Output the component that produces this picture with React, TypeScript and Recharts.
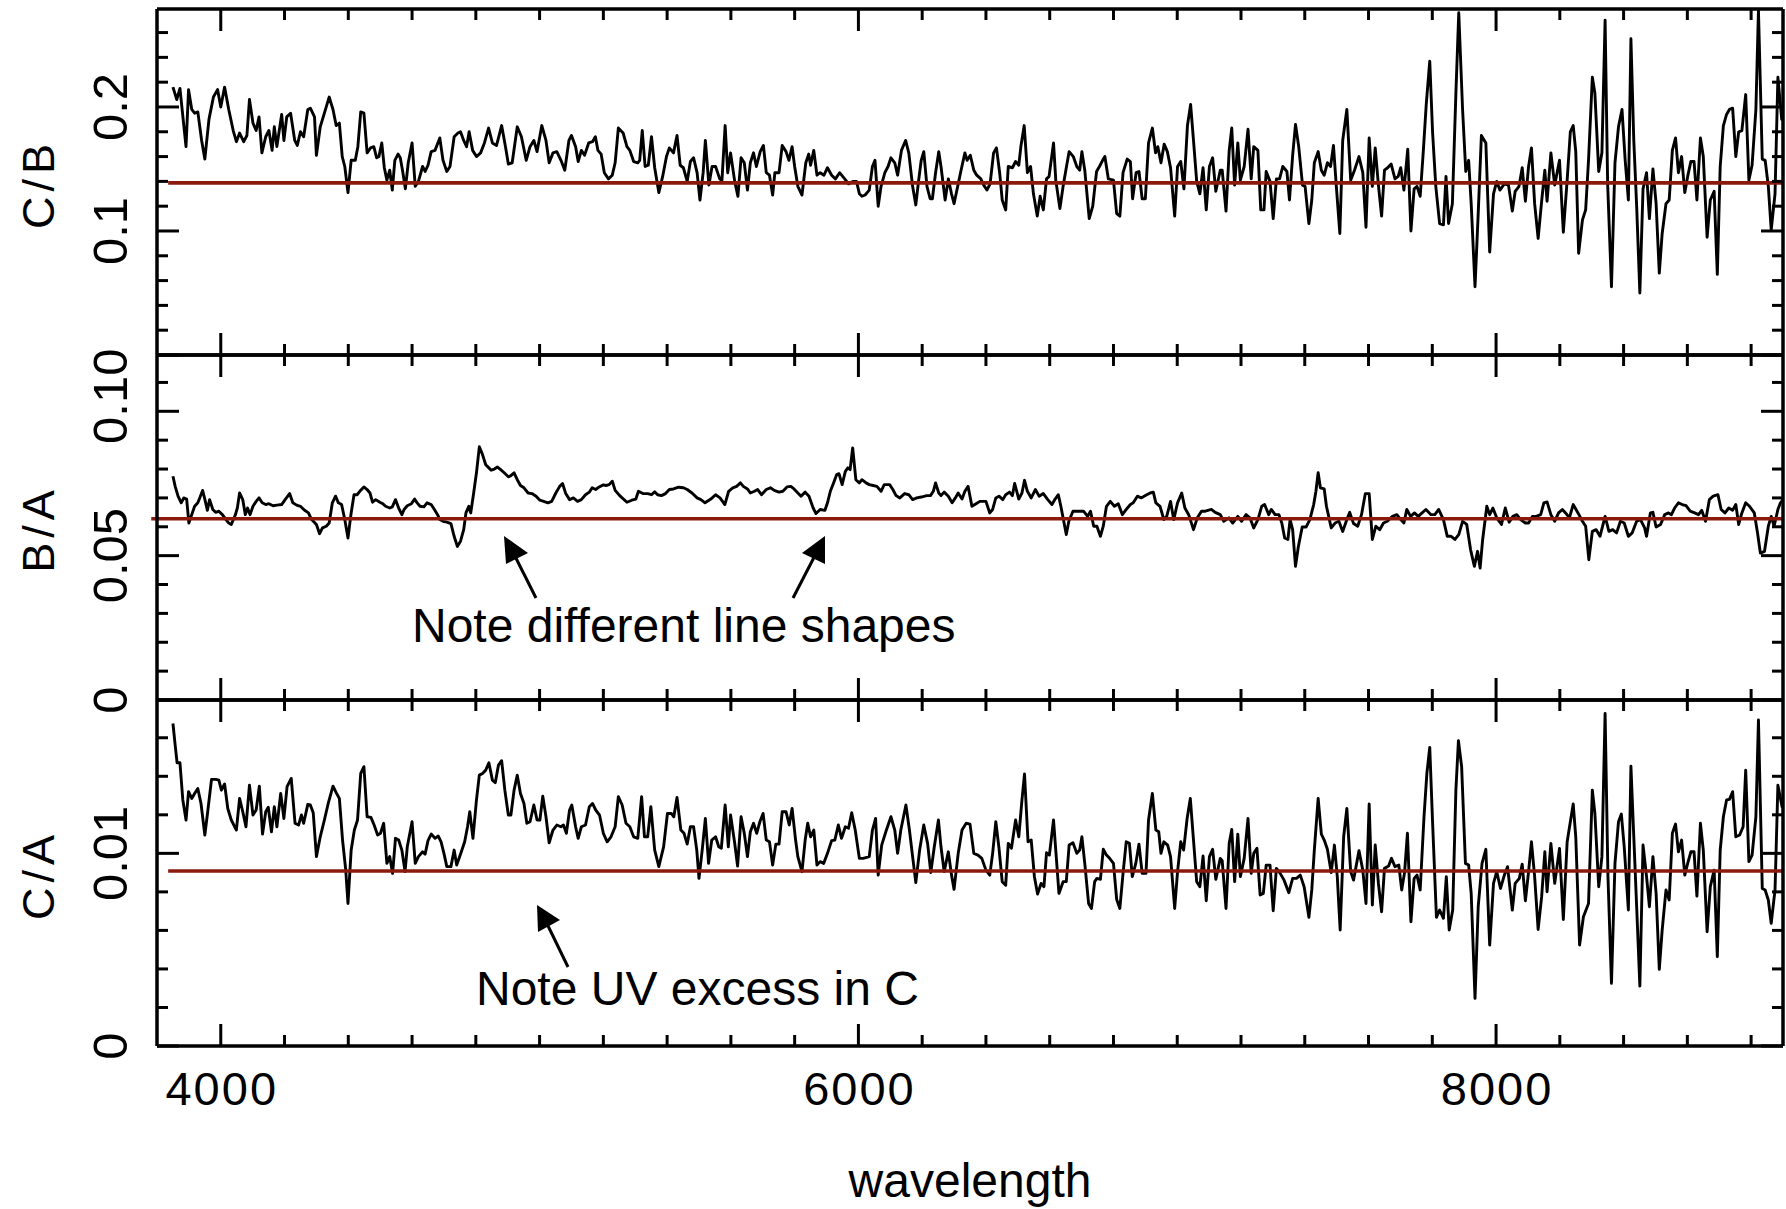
import React from 'react';
import { LineChart, Line, XAxis, YAxis, ReferenceLine } from 'recharts';

const W = 1786;
const H = 1209;
const PLOT_L = 157;
const PLOT_R = 1783;
const FONT = '"Liberation Sans", Arial, Helvetica, sans-serif';
const RED = '#8b1a0e';

// ---------- data: [wavelength, ratio] ----------
const cbSpectrum: number[][] = [
[3850,.216],[3862,.206],[3872,.215],[3878,.200],[3891,.168],[3899,.214],[3909,.198],[3918,.195],[3928,.196],[3940,.173],
[3950,.158],[3963,.190],[3977,.208],[3990,.214],[4000,.200],[4012,.216],[4025,.198],[4039,.181],[4049,.172],[4059,.179],
[4072,.172],[4082,.177],[4090,.206],[4101,.187],[4111,.181],[4120,.192],[4129,.163],[4141,.176],[4151,.181],[4161,.165],
[4168,.184],[4176,.168],[4191,.194],[4198,.173],[4207,.192],[4219,.195],[4232,.173],[4240,.169],[4250,.180],[4260,.176],
[4273,.198],[4281,.199],[4294,.192],[4300,.161],[4312,.184],[4325,.195],[4340,.208],[4352,.198],[4362,.185],[4372,.187],
[4381,.160],[4389,.152],[4399,.131],[4409,.157],[4422,.157],[4430,.168],[4439,.196],[4449,.195],[4459,.163],[4470,.167],
[4480,.168],[4489,.159],[4496,.160],[4505,.171],[4513,.151],[4521,.141],[4530,.149],[4538,.133],[4546,.157],[4556,.162],
[4563,.159],[4570,.149],[4579,.134],[4588,.155],[4600,.171],[4610,.136],[4620,.140],[4633,.152],[4641,.148],[4650,.153],
[4660,.164],[4672,.165],[4687,.175],[4697,.157],[4709,.148],[4719,.152],[4732,.176],[4744,.179],[4752,.180],[4762,.173],
[4771,.168],[4779,.180],[4790,.165],[4802,.160],[4815,.163],[4827,.171],[4840,.183],[4852,.171],[4865,.169],[4881,.185],
[4893,.168],[4902,.154],[4914,.155],[4930,.184],[4943,.176],[4958,.157],[4970,.168],[4982,.173],[4992,.164],[5007,.185],
[5020,.173],[5030,.155],[5042,.163],[5054,.164],[5067,.157],[5079,.149],[5092,.173],[5100,.177],[5113,.168],[5121,.156],
[5131,.165],[5141,.161],[5154,.171],[5166,.172],[5175,.176],[5183,.165],[5193,.162],[5203,.147],[5216,.142],[5228,.145],
[5237,.155],[5247,.183],[5262,.179],[5274,.168],[5283,.165],[5295,.156],[5308,.155],[5314,.157],[5322,.181],[5331,.152],
[5341,.153],[5351,.176],[5361,.151],[5374,.131],[5386,.144],[5398,.160],[5407,.167],[5420,.163],[5431,.177],[5441,.153],
[5451,.151],[5463,.140],[5473,.156],[5483,.159],[5494,.147],[5503,.125],[5513,.147],[5520,.173],[5531,.137],[5541,.152],
[5552,.152],[5565,.142],[5572,.141],[5582,.185],[5590,.147],[5599,.163],[5612,.140],[5622,.128],[5632,.159],[5642,.155],
[5652,.133],[5661,.155],[5671,.163],[5680,.152],[5692,.164],[5702,.169],[5711,.147],[5721,.145],[5731,.129],[5738,.147],
[5751,.147],[5761,.169],[5773,.164],[5782,.157],[5792,.168],[5800,.152],[5810,.136],[5823,.129],[5835,.155],[5844,.162],
[5850,.153],[5860,.165],[5870,.145],[5880,.147],[5892,.145],[5903,.151],[5916,.145],[5928,.142],[5941,.147],[5957,.142],
[5969,.138],[5984,.140],[5994,.140],[6003,.130],[6011,.128],[6021,.129],[6034,.133],[6044,.152],[6052,.157],[6062,.120],
[6071,.136],[6083,.147],[6093,.152],[6102,.159],[6114,.155],[6123,.145],[6135,.165],[6148,.173],[6158,.163],[6170,.136],
[6180,.121],[6189,.141],[6197,.157],[6205,.164],[6215,.136],[6225,.126],[6232,.126],[6242,.147],[6252,.164],[6259,.152],
[6272,.125],[6282,.142],[6292,.130],[6300,.122],[6313,.138],[6322,.149],[6334,.163],[6341,.157],[6351,.161],[6362,.149],
[6371,.145],[6384,.142],[6393,.137],[6403,.133],[6413,.138],[6424,.163],[6433,.167],[6443,.147],[6451,.125],[6462,.117],
[6470,.152],[6483,.151],[6493,.156],[6503,.153],[6510,.169],[6520,.185],[6530,.147],[6540,.152],[6549,.130],[6561,.112],
[6570,.128],[6580,.117],[6590,.142],[6598,.144],[6612,.171],[6619,.141],[6632,.118],[6642,.136],[6652,.151],[6661,.164],
[6674,.160],[6685,.152],[6694,.149],[6701,.164],[6710,.149],[6724,.110],[6735,.120],[6747,.148],[6756,.152],[6766,.157],
[6773,.160],[6784,.142],[6800,.141],[6810,.114],[6820,.112],[6830,.147],[6843,.158],[6853,.156],[6860,.126],[6871,.147],
[6880,.148],[6890,.126],[6900,.126],[6910,.171],[6922,.183],[6932,.163],[6939,.168],[6949,.155],[6959,.170],[6969,.164],
[6979,.151],[6992,.112],[7001,.152],[7011,.156],[7021,.134],[7032,.185],[7042,.202],[7051,.173],[7061,.140],[7071,.130],
[7081,.151],[7091,.117],[7101,.152],[7111,.159],[7121,.132],[7135,.149],[7141,.149],[7153,.116],[7163,.165],[7171,.183],
[7180,.137],[7190,.171],[7198,.141],[7210,.152],[7222,.182],[7232,.142],[7240,.168],[7253,.165],[7262,.117],[7272,.117],
[7279,.148],[7291,.140],[7301,.110],[7311,.142],[7321,.142],[7331,.152],[7344,.148],[7352,.125],[7362,.161],[7371,.186],
[7381,.168],[7393,.137],[7401,.136],[7413,.106],[7422,.125],[7430,.155],[7442,.164],[7452,.149],[7461,.145],[7471,.155],
[7481,.152],[7490,.169],[7499,.136],[7510,.098],[7519,.173],[7532,.198],[7544,.141],[7556,.149],[7570,.160],[7582,.147],
[7592,.103],[7602,.175],[7612,.136],[7621,.167],[7631,.137],[7641,.112],[7650,.149],[7660,.151],[7671,.154],[7683,.142],
[7693,.144],[7701,.151],[7711,.133],[7723,.166],[7733,.100],[7743,.134],[7752,.136],[7762,.128],[7772,.165],[7781,.202],
[7792,.237],[7801,.179],[7811,.136],[7823,.106],[7835,.105],[7843,.144],[7851,.106],[7863,.122],[7874,.211],[7883,.276],
[7895,.198],[7905,.148],[7914,.157],[7922,.122],[7934,.055],[7944,.114],[7954,.177],[7968,.171],[7980,.083],[7992,.130],
[8002,.140],[8012,.133],[8026,.138],[8039,.137],[8051,.116],[8060,.132],[8072,.136],[8082,.151],[8092,.124],[8102,.152],
[8111,.167],[8121,.122],[8132,.094],[8143,.124],[8153,.149],[8160,.124],[8172,.163],[8184,.137],[8199,.157],[8211,.099],
[8223,.141],[8233,.180],[8242,.185],[8250,.164],[8259,.082],[8271,.109],[8281,.117],[8290,.157],[8302,.224],[8310,.211],
[8322,.148],[8332,.163],[8342,.270],[8350,.138],[8362,.055],[8373,.155],[8384,.184],[8395,.198],[8405,.157],[8415,.125],
[8423,.255],[8432,.173],[8441,.120],[8451,.050],[8461,.134],[8472,.147],[8481,.110],[8492,.150],[8502,.122],[8512,.066],
[8521,.098],[8533,.122],[8543,.125],[8553,.165],[8563,.175],[8572,.147],[8582,.160],[8592,.131],[8601,.144],[8611,.156],
[8621,.156],[8630,.125],[8641,.175],[8650,.160],[8662,.095],[8672,.125],[8684,.132],[8694,.065],[8703,.152],[8713,.185],
[8723,.194],[8732,.198],[8742,.199],[8752,.160],[8761,.180],[8771,.181],[8783,.210],[8793,.141],[8803,.153],[8815,.198],
[8823,.278],[8835,.158],[8844,.157],[8854,.136],[8863,.101],[8875,.130],[8884,.224],[8896,.190],[8900,.200]
];

const baSpectrum: number[][] = [
[3850,.0775],[3857,.0740],[3866,.0706],[3876,.0683],[3884,.0700],[3893,.0696],[3900,.0613],[3909,.0642],[3918,.0671],[3928,.0683],
[3934,.0700],[3943,.0726],[3950,.0696],[3958,.0657],[3965,.0694],[3975,.0660],[3984,.0650],[3994,.0654],[4005,.0642],[4015,.0627],
[4025,.0613],[4033,.0608],[4046,.0642],[4052,.0665],[4059,.0717],[4069,.0694],[4077,.0642],[4084,.0665],[4092,.0642],[4101,.0671],
[4111,.0688],[4120,.0700],[4130,.0683],[4141,.0677],[4151,.0680],[4164,.0673],[4176,.0675],[4191,.0677],[4203,.0696],[4216,.0715],
[4226,.0683],[4238,.0675],[4250,.0671],[4263,.0657],[4275,.0648],[4285,.0625],[4300,.0608],[4310,.0576],[4319,.0596],[4331,.0602],
[4340,.0613],[4350,.0683],[4360,.0706],[4369,.0683],[4379,.0677],[4389,.0625],[4399,.0561],[4409,.0648],[4418,.0711],[4428,.0711],
[4436,.0723],[4449,.0738],[4459,.0729],[4468,.0717],[4476,.0685],[4486,.0694],[4499,.0685],[4508,.0680],[4517,.0671],[4530,.0665],
[4538,.0669],[4548,.0694],[4558,.0665],[4568,.0642],[4575,.0660],[4585,.0673],[4598,.0680],[4608,.0696],[4616,.0683],[4625,.0671],
[4637,.0669],[4647,.0683],[4660,.0677],[4670,.0660],[4680,.0642],[4687,.0625],[4697,.0619],[4709,.0616],[4722,.0611],[4732,.0567],
[4742,.0532],[4752,.0550],[4762,.0590],[4769,.0648],[4778,.0671],[4784,.0648],[4793,.0715],[4802,.0787],[4811,.0877],[4821,.0850],
[4831,.0815],[4841,.0804],[4848,.0796],[4858,.0800],[4868,.0807],[4878,.0798],[4889,.0787],[4902,.0773],[4910,.0777],[4920,.0787],
[4930,.0763],[4940,.0743],[4951,.0735],[4964,.0717],[4976,.0715],[4989,.0706],[5001,.0692],[5013,.0688],[5026,.0683],[5038,.0688],
[5051,.0717],[5063,.0740],[5072,.0750],[5082,.0715],[5094,.0694],[5106,.0700],[5119,.0688],[5131,.0694],[5144,.0711],[5156,.0720],
[5165,.0735],[5176,.0729],[5187,.0738],[5200,.0745],[5208,.0743],[5218,.0746],[5228,.0758],[5237,.0726],[5253,.0706],[5274,.0685],
[5289,.0692],[5302,.0696],[5310,.0723],[5324,.0715],[5339,.0715],[5351,.0711],[5361,.0721],[5370,.0711],[5382,.0708],[5395,.0715],
[5407,.0729],[5420,.0731],[5436,.0737],[5451,.0735],[5463,.0729],[5478,.0717],[5494,.0700],[5506,.0694],[5519,.0683],[5537,.0696],
[5552,.0711],[5566,.0700],[5581,.0677],[5593,.0723],[5606,.0735],[5618,.0740],[5630,.0752],[5639,.0740],[5652,.0731],[5661,.0717],
[5674,.0723],[5684,.0729],[5696,.0711],[5711,.0729],[5724,.0735],[5736,.0726],[5751,.0720],[5763,.0723],[5776,.0738],[5788,.0740],
[5798,.0731],[5810,.0717],[5820,.0706],[5833,.0720],[5845,.0706],[5858,.0665],[5867,.0646],[5880,.0660],[5895,.0657],[5903,.0683],
[5912,.0723],[5922,.0752],[5932,.0781],[5939,.0784],[5949,.0746],[5959,.0792],[5967,.0804],[5974,.0798],[5982,.0873],[5992,.0763],
[6003,.0752],[6011,.0763],[6024,.0752],[6034,.0746],[6046,.0743],[6058,.0740],[6071,.0723],[6081,.0746],[6098,.0746],[6108,.0729],
[6118,.0708],[6130,.0700],[6145,.0715],[6158,.0711],[6170,.0694],[6183,.0700],[6197,.0703],[6214,.0708],[6226,.0708],[6235,.0723],
[6242,.0752],[6252,.0717],[6259,.0708],[6269,.0720],[6282,.0706],[6294,.0683],[6304,.0700],[6313,.0717],[6325,.0696],[6334,.0723],
[6344,.0740],[6356,.0671],[6369,.0680],[6381,.0688],[6400,.0688],[6412,.0648],[6421,.0660],[6431,.0700],[6441,.0706],[6453,.0694],
[6462,.0711],[6474,.0720],[6483,.0708],[6490,.0750],[6503,.0696],[6513,.0717],[6521,.0761],[6530,.0723],[6542,.0700],[6555,.0729],
[6567,.0706],[6580,.0715],[6594,.0694],[6607,.0677],[6617,.0696],[6627,.0711],[6635,.0671],[6652,.0573],[6660,.0619],[6673,.0654],
[6689,.0654],[6706,.0654],[6719,.0636],[6728,.0654],[6738,.0602],[6748,.0602],[6759,.0567],[6768,.0602],[6778,.0671],[6790,.0688],
[6803,.0671],[6815,.0680],[6828,.0642],[6840,.0660],[6853,.0677],[6862,.0683],[6875,.0706],[6887,.0700],[6900,.0708],[6915,.0717],
[6925,.0720],[6933,.0683],[6946,.0671],[6958,.0625],[6967,.0636],[6979,.0688],[6989,.0625],[7001,.0683],[7014,.0717],[7024,.0665],
[7036,.0642],[7051,.0590],[7063,.0631],[7076,.0654],[7088,.0654],[7107,.0660],[7119,.0650],[7135,.0642],[7146,.0619],[7162,.0631],
[7174,.0613],[7190,.0636],[7202,.0619],[7216,.0642],[7228,.0631],[7240,.0596],[7253,.0625],[7265,.0671],[7274,.0677],[7287,.0642],
[7295,.0660],[7307,.0642],[7319,.0642],[7328,.0613],[7337,.0561],[7347,.0556],[7354,.0625],[7362,.0590],[7371,.0463],[7380,.0532],
[7392,.0599],[7404,.0599],[7416,.0625],[7428,.0677],[7435,.0723],[7442,.0787],[7449,.0735],[7461,.0731],[7468,.0671],[7483,.0596],
[7495,.0613],[7507,.0619],[7519,.0584],[7532,.0625],[7541,.0650],[7553,.0611],[7566,.0602],[7578,.0642],[7590,.0715],[7602,.0715],
[7612,.0556],[7623,.0602],[7635,.0590],[7647,.0613],[7659,.0619],[7675,.0636],[7689,.0642],[7701,.0625],[7711,.0613],[7720,.0660],
[7732,.0636],[7744,.0648],[7756,.0636],[7768,.0648],[7780,.0660],[7796,.0642],[7808,.0642],[7820,.0660],[7835,.0625],[7847,.0567],
[7859,.0567],[7871,.0556],[7883,.0573],[7895,.0619],[7908,.0608],[7920,.0521],[7932,.0463],[7942,.0515],[7950,.0457],[7958,.0556],
[7971,.0671],[7980,.0642],[7990,.0665],[8002,.0631],[8017,.0608],[8029,.0665],[8041,.0616],[8053,.0636],[8065,.0642],[8077,.0625],
[8092,.0613],[8102,.0613],[8114,.0636],[8126,.0636],[8140,.0642],[8150,.0683],[8160,.0686],[8172,.0642],[8184,.0619],[8196,.0648],
[8208,.0660],[8218,.0648],[8230,.0631],[8242,.0677],[8257,.0648],[8271,.0619],[8281,.0602],[8291,.0486],[8302,.0584],[8314,.0590],
[8326,.0567],[8342,.0636],[8354,.0584],[8366,.0590],[8378,.0579],[8390,.0619],[8402,.0613],[8415,.0567],[8427,.0579],[8441,.0619],
[8453,.0625],[8466,.0596],[8472,.0567],[8484,.0648],[8492,.0650],[8502,.0599],[8516,.0608],[8529,.0642],[8541,.0648],[8550,.0642],
[8560,.0665],[8572,.0683],[8584,.0677],[8596,.0673],[8609,.0654],[8623,.0648],[8635,.0642],[8645,.0657],[8657,.0619],[8669,.0694],
[8681,.0706],[8696,.0711],[8706,.0660],[8718,.0648],[8730,.0665],[8742,.0657],[8752,.0677],[8761,.0608],[8771,.0648],[8783,.0683],
[8795,.0671],[8810,.0648],[8820,.0579],[8829,.0509],[8842,.0515],[8854,.0602],[8863,.0636],[8872,.0602],[8884,.0660],[8892,.0683],
[8900,.0694]
];

const caSpectrum: number[][] = [
[3850,.01674],[3857,.01562],[3863,.01470],[3872,.01470],[3881,.01277],[3891,.01173],[3899,.01320],[3909,.01285],[3918,.01311],[3928,.01337],
[3938,.01259],[3950,.01095],[3959,.01216],[3971,.01384],[3984,.01384],[3994,.01380],[4002,.01328],[4012,.01360],[4022,.01233],[4033,.01173],
[4049,.01121],[4059,.01285],[4069,.01216],[4079,.01138],[4090,.01354],[4101,.01199],[4111,.01225],[4121,.01349],[4131,.01100],[4141,.01216],
[4149,.01239],[4159,.01112],[4168,.01242],[4176,.01138],[4188,.01311],[4198,.01181],[4208,.01346],[4221,.01389],[4233,.01156],[4244,.01147],
[4253,.01199],[4260,.01156],[4273,.01254],[4281,.01251],[4290,.01211],[4300,.00983],[4312,.01086],[4325,.01173],[4337,.01259],[4352,.01349],
[4362,.01315],[4372,.01285],[4382,.01069],[4392,.00913],[4399,.00740],[4409,.01017],[4419,.01121],[4429,.01173],[4439,.01415],[4449,.01450],
[4459,.01190],[4471,.01187],[4481,.01147],[4492,.01095],[4501,.01104],[4511,.01156],[4521,.00948],[4530,.00983],[4539,.00896],[4548,.01078],
[4558,.01069],[4568,.01017],[4578,.00905],[4585,.01034],[4600,.01164],[4610,.00948],[4620,.00983],[4633,.01008],[4641,.00996],[4650,.01066],
[4660,.01100],[4672,.01078],[4682,.01090],[4691,.01060],[4700,.01000],[4709,.00931],[4722,.00931],[4732,.01017],[4740,.00939],[4753,.01000],
[4765,.01060],[4774,.01138],[4781,.01216],[4791,.01078],[4802,.01277],[4811,.01406],[4821,.01415],[4831,.01432],[4841,.01470],[4852,.01380],
[4861,.01367],[4871,.01458],[4881,.01481],[4891,.01328],[4902,.01199],[4910,.01199],[4920,.01328],[4930,.01406],[4940,.01311],[4951,.01259],
[4960,.01156],[4970,.01164],[4982,.01251],[4992,.01173],[5001,.01173],[5010,.01297],[5020,.01190],[5030,.01055],[5042,.01121],[5054,.01147],
[5067,.01138],[5075,.01147],[5084,.01104],[5094,.01225],[5101,.01251],[5113,.01138],[5121,.01078],[5131,.01138],[5144,.01147],[5156,.01242],
[5166,.01259],[5176,.01225],[5188,.01199],[5200,.01104],[5212,.01060],[5224,.01086],[5237,.01138],[5247,.01294],[5259,.01251],[5271,.01156],
[5283,.01138],[5295,.01086],[5308,.01078],[5320,.01294],[5329,.01086],[5339,.01086],[5349,.01242],[5361,.01017],[5374,.00931],[5389,.01034],
[5401,.01207],[5413,.01207],[5421,.01190],[5431,.01290],[5443,.01121],[5453,.01104],[5463,.01048],[5473,.01138],[5483,.01138],[5493,.01017],
[5500,.00870],[5510,.01017],[5520,.01181],[5530,.00948],[5540,.01069],[5552,.01086],[5562,.01034],[5570,.01026],[5582,.01251],[5592,.01034],
[5599,.01199],[5612,.01052],[5621,.00934],[5632,.01190],[5642,.01104],[5652,.00983],[5661,.01112],[5671,.01156],[5681,.01104],[5691,.01164],
[5701,.01207],[5711,.01069],[5721,.01060],[5731,.00939],[5741,.01048],[5751,.01048],[5761,.01216],[5773,.01216],[5783,.01147],[5792,.01233],
[5803,.01069],[5810,.00983],[5823,.00905],[5833,.01069],[5841,.01156],[5850,.01086],[5860,.01121],[5870,.00939],[5880,.00957],[5891,.00948],
[5903,.01000],[5916,.01066],[5926,.01069],[5937,.01147],[5947,.01078],[5959,.01138],[5969,.01130],[5979,.01211],[5990,.01121],[6003,.00974],
[6015,.00974],[6034,.00983],[6044,.01121],[6054,.01181],[6062,.00887],[6073,.01043],[6086,.01112],[6102,.01190],[6114,.01121],[6123,.01000],
[6133,.01121],[6149,.01251],[6160,.01121],[6170,.00983],[6180,.00848],[6192,.01017],[6205,.01147],[6217,.01052],[6227,.00900],[6238,.01034],
[6251,.01173],[6259,.01034],[6269,.00905],[6282,.01008],[6292,.00887],[6300,.00813],[6313,.01000],[6325,.01121],[6338,.01156],[6350,.01152],
[6362,.01000],[6375,.00991],[6387,.00974],[6400,.00913],[6412,.00887],[6421,.01000],[6431,.01164],[6441,.01026],[6451,.00853],[6462,.00835],
[6470,.01052],[6480,.01026],[6493,.01173],[6503,.01086],[6513,.01277],[6521,.01412],[6532,.01060],[6542,.01069],[6552,.00879],[6562,.00789],
[6573,.00844],[6582,.00827],[6590,.01003],[6599,.00991],[6612,.01173],[6619,.01017],[6629,.00792],[6642,.00853],[6652,.00853],[6661,.01043],
[6673,.01055],[6685,.01000],[6694,.01017],[6701,.01086],[6710,.00948],[6722,.00740],[6731,.00714],[6741,.00853],[6748,.00870],[6759,.00865],
[6768,.01021],[6778,.00991],[6788,.00974],[6800,.00948],[6810,.00761],[6820,.00714],[6830,.00896],[6840,.01060],[6850,.01052],[6859,.00879],
[6870,.00948],[6880,.01048],[6890,.00896],[6902,.00896],[6910,.01173],[6922,.01311],[6933,.01121],[6942,.01112],[6949,.01000],[6958,.01060],
[6970,.01043],[6979,.00983],[6992,.00714],[7001,.00905],[7011,.01060],[7020,.01017],[7031,.01181],[7041,.01285],[7051,.01069],[7061,.00853],
[7071,.00827],[7081,.00986],[7091,.00754],[7101,.00983],[7111,.01021],[7121,.00865],[7135,.00974],[7141,.00962],[7153,.00714],[7163,.01052],
[7171,.01124],[7180,.00853],[7190,.01100],[7198,.00879],[7210,.00974],[7222,.01181],[7232,.00896],[7240,.01000],[7250,.01026],[7260,.00784],
[7270,.00792],[7279,.00939],[7291,.00939],[7301,.00702],[7311,.00922],[7323,.00896],[7335,.00861],[7350,.00796],[7362,.00870],[7374,.00870],
[7386,.00887],[7398,.00827],[7413,.00668],[7422,.00810],[7430,.01017],[7442,.01285],[7452,.01100],[7461,.01069],[7471,.01021],[7483,.00900],
[7493,.01043],[7502,.00879],[7511,.00602],[7522,.01086],[7532,.01233],[7544,.00905],[7553,.00861],[7570,.01014],[7582,.00913],[7592,.00740],
[7602,.01256],[7612,.00732],[7621,.01043],[7631,.00844],[7641,.00697],[7650,.00922],[7663,.00934],[7672,.00974],[7683,.00931],[7695,.00939],
[7704,.00810],[7713,.00900],[7722,.01104],[7733,.00645],[7743,.00870],[7752,.00887],[7762,.00810],[7774,.01190],[7783,.01415],[7792,.01550],
[7801,.01156],[7813,.00668],[7823,.00706],[7835,.00663],[7844,.00879],[7853,.00602],[7864,.00706],[7874,.01328],[7882,.01585],[7892,.01450],
[7904,.00948],[7914,.00939],[7922,.00792],[7934,.00247],[7944,.00723],[7956,.00948],[7968,.01021],[7980,.00524],[7992,.00844],[8002,.00905],
[8014,.00818],[8026,.00887],[8036,.00931],[8051,.00706],[8060,.00844],[8073,.00870],[8082,.00944],[8092,.00754],[8102,.00905],[8111,.01060],
[8121,.00879],[8132,.00605],[8143,.00775],[8153,.01008],[8160,.00801],[8172,.01052],[8184,.00844],[8199,.01026],[8211,.00657],[8223,.01060],
[8233,.01164],[8242,.01256],[8250,.01086],[8262,.00524],[8274,.00671],[8290,.00740],[8302,.01328],[8310,.01207],[8322,.00827],[8332,.00983],
[8342,.01726],[8351,.00879],[8362,.00325],[8373,.00948],[8384,.01164],[8393,.01204],[8402,.01034],[8415,.00706],[8423,.01453],[8432,.01086],
[8441,.00723],[8451,.00311],[8461,.01043],[8472,.00879],[8481,.00723],[8492,.00983],[8502,.00792],[8512,.00398],[8521,.00602],[8533,.00810],
[8543,.00758],[8553,.01104],[8563,.01152],[8572,.01008],[8582,.01069],[8592,.00887],[8601,.00948],[8611,.01008],[8621,.01008],[8630,.00778],
[8641,.01156],[8650,.01017],[8662,.00593],[8672,.00827],[8684,.00913],[8694,.00464],[8703,.01017],[8713,.01190],[8723,.01277],[8732,.01280],
[8742,.01320],[8752,.01086],[8764,.01095],[8775,.01138],[8783,.01432],[8793,.00957],[8803,.00991],[8815,.01190],[8823,.01692],[8835,.00818],
[8844,.00810],[8854,.00758],[8863,.00637],[8875,.00810],[8884,.01354],[8897,.01242],[8900,.01280]
];

// reference (mean) levels and their starting wavelength
const cbMean = 0.1388;
const baMean = 0.0628;
const caMean = 0.00908;
const cbMeanStart = 3835;
const baMeanStart = 3782;
const caMeanStart = 3835;

// ---------- axes ----------
const xDomain = [3800, 8900];
const xTicks = [4000, 4200, 4400, 4600, 4800, 5000, 5200, 5400, 5600, 5800, 6000, 6200, 6400, 6600, 6800, 7000, 7200, 7400, 7600, 7800, 8000, 8200, 8400, 8600, 8800];
const xMajor = [4000, 6000, 8000];
const xTickLabels = ['4000', '6000', '8000'];

const cbTicks = [0, 0.02, 0.04, 0.06, 0.08, 0.1, 0.12, 0.14, 0.16, 0.18, 0.2, 0.22, 0.24, 0.26];
const cbMajor = [0, 0.1, 0.2];
const cbLabelValues = [0.1, 0.2];
const cbLabels = ['0.1', '0.2'];

const baTicks = [0, 0.01, 0.02, 0.03, 0.04, 0.05, 0.06, 0.07, 0.08, 0.09, 0.1, 0.11];
const baMajor = [0, 0.05, 0.1];
const baLabelValues = [0, 0.05, 0.1];
const baLabels = ['0', '0.05', '0.10'];

const caTicks = [0, 0.002, 0.004, 0.006, 0.008, 0.01, 0.012, 0.014, 0.016];
const caMajor = [0, 0.01];
const caLabelValues = [0, 0.01];
const caLabels = ['0', '0.01'];

const TICK_MAJOR = 22;
const TICK_MINOR = 11;

const near = (a: number, b: number) => Math.abs(a - b) < 1e-9;
const inList = (v: number, arr: number[]) => arr.some((a) => near(a, v));

type Side = 'bottom' | 'top' | 'left' | 'right';

function makeTick(side: Side, major: number[], labelValues: number[] = [], labels: string[] = []) {
  return (props: any) => {
    const { x, y, payload } = props;
    const v = payload.value as number;
    const len = inList(v, major) ? TICK_MAJOR : TICK_MINOR;
    let x2 = x;
    let y2 = y;
    if (side === 'bottom') y2 = y - len;
    if (side === 'top') y2 = y + len;
    if (side === 'left') x2 = x + len;
    if (side === 'right') x2 = x - len;
    const li = labelValues.findIndex((a) => near(a, v));
    let label = null;
    if (li >= 0) {
      const text = labels[li];
      if (side === 'bottom') {
        label = (
          <text x={x + 1} y={y + 59} textAnchor="middle" fontSize={47} letterSpacing={2} fontFamily={FONT} fill="#000">
            {text}
          </text>
        );
      } else if (side === 'left') {
        const lx = x - 30;
        const ly = text === '0.10' ? y - 15 : y;
        label = (
          <text x={lx} y={ly} transform={`rotate(-90 ${lx} ${ly})`} textAnchor="middle" fontSize={49} fontFamily={FONT} fill="#000">
            {text}
          </text>
        );
      }
    }
    return (
      <g>
        <line x1={x} y1={y} x2={x2} y2={y2} stroke="#000" strokeWidth={3} />
        {label}
      </g>
    );
  };
}

type PanelProps = {
  top: number;
  bottom: number;
  points: number[][];
  yDomain: number[];
  yTicks: number[];
  yMajor: number[];
  yLabelValues: number[];
  yLabels: string[];
  mean: number;
  meanStart: number;
  showX: boolean;
};

function Panel(p: PanelProps) {
  const data = p.points.map(([w, v]) => ({ w, v }));
  const axisLine = { stroke: '#000', strokeWidth: 3.5 };
  return (
    <div style={{ position: 'absolute', left: 0, top: 0 }}>
      <LineChart
        width={W}
        height={H}
        data={data}
        margin={{ top: p.top - 1, bottom: H - p.bottom - 1, left: PLOT_L - 1, right: W - PLOT_R - 1 }}
      >
        <XAxis
          xAxisId="b"
          orientation="bottom"
          type="number"
          dataKey="w"
          domain={xDomain}
          allowDataOverflow
          ticks={xTicks}
          interval={0}
          height={1}
          tickSize={0}
          tickMargin={0}
          tickLine={false}
          axisLine={axisLine}
          tick={makeTick('bottom', xMajor, p.showX ? xMajor : [], p.showX ? xTickLabels : [])}
        />
        <XAxis
          xAxisId="t"
          orientation="top"
          type="number"
          dataKey="w"
          domain={xDomain}
          allowDataOverflow
          ticks={xTicks}
          interval={0}
          height={1}
          tickSize={0}
          tickMargin={0}
          tickLine={false}
          axisLine={axisLine}
          tick={makeTick('top', xMajor)}
        />
        <YAxis
          yAxisId="l"
          orientation="left"
          type="number"
          domain={p.yDomain}
          allowDataOverflow
          ticks={p.yTicks}
          interval={0}
          width={1}
          tickSize={0}
          tickMargin={0}
          tickLine={false}
          axisLine={axisLine}
          tick={makeTick('left', p.yMajor, p.yLabelValues, p.yLabels)}
        />
        <YAxis
          yAxisId="r"
          orientation="right"
          type="number"
          domain={p.yDomain}
          allowDataOverflow
          ticks={p.yTicks}
          interval={0}
          width={1}
          tickSize={0}
          tickMargin={0}
          tickLine={false}
          axisLine={axisLine}
          tick={makeTick('right', p.yMajor)}
        />
        <Line
          xAxisId="b"
          yAxisId="l"
          dataKey="v"
          type="linear"
          dot={false}
          activeDot={false}
          stroke="#000"
          strokeWidth={2.9}
          strokeLinejoin="round"
          isAnimationActive={false}
        />
        <ReferenceLine
          xAxisId="b"
          yAxisId="l"
          segment={[
            { x: p.meanStart, y: p.mean },
            { x: xDomain[1], y: p.mean },
          ]}
          stroke={RED}
          strokeWidth={3.6}
          ifOverflow="visible"
        />
      </LineChart>
    </div>
  );
}

function Arrow({ x1, y1, x2, y2, c1x, c1y, c2x, c2y }: any) {
  return (
    <g>
      <line x1={x1} y1={y1} x2={(x2 + (c1x + c2x) / 2) / 2} y2={(y2 + (c1y + c2y) / 2) / 2} stroke="#000" strokeWidth={3} />
      <polygon points={`${x2},${y2} ${c1x},${c1y} ${c2x},${c2y}`} fill="#000" />
    </g>
  );
}

export default function App() {
  return (
    <div style={{ position: 'absolute', left: 0, top: 0, width: W, height: H, background: '#fff', overflow: 'hidden' }}>
      <Panel
        top={9}
        bottom={355}
        points={cbSpectrum}
        yDomain={[0, 0.279]}
        yTicks={cbTicks}
        yMajor={cbMajor}
        yLabelValues={cbLabelValues}
        yLabels={cbLabels}
        mean={cbMean}
        meanStart={cbMeanStart}
        showX={false}
      />
      <Panel
        top={355}
        bottom={700}
        points={baSpectrum}
        yDomain={[0, 0.1195]}
        yTicks={baTicks}
        yMajor={baMajor}
        yLabelValues={baLabelValues}
        yLabels={baLabels}
        mean={baMean}
        meanStart={baMeanStart}
        showX={false}
      />
      <Panel
        top={700}
        bottom={1046}
        points={caSpectrum}
        yDomain={[0, 0.01796]}
        yTicks={caTicks}
        yMajor={caMajor}
        yLabelValues={caLabelValues}
        yLabels={caLabels}
        mean={caMean}
        meanStart={caMeanStart}
        showX={true}
      />
      <svg width={W} height={H} style={{ position: 'absolute', left: 0, top: 0, pointerEvents: 'none' }}>
        <g fontFamily={FONT} fill="#000">
          <text x={54} y={184} transform="rotate(-90 54 184)" textAnchor="middle" fontSize={45} letterSpacing={5}>C/B</text>
          <text x={54} y={529} transform="rotate(-90 54 529)" textAnchor="middle" fontSize={45} letterSpacing={5}>B/A</text>
          <text x={54} y={875} transform="rotate(-90 54 875)" textAnchor="middle" fontSize={45} letterSpacing={5}>C/A</text>
          <text x={970} y={1197} textAnchor="middle" fontSize={48}>wavelength</text>
          <text x={412} y={642} fontSize={48}>Note different line shapes</text>
          <text x={476} y={1005} fontSize={48}>Note UV excess in C</text>
        </g>
        <Arrow x1={536} y1={598} x2={504} y2={536} c1x={528} c1y={553} c2x={506} c2y={564} />
        <Arrow x1={793} y1={598} x2={825} y2={536} c1x={802} c1y={553} c2x={825} c2y={564} />
        <Arrow x1={568} y1={967} x2={537} y2={905} c1x={560} c1y={920} c2x={538} c2y={932} />
      </svg>
    </div>
  );
}
